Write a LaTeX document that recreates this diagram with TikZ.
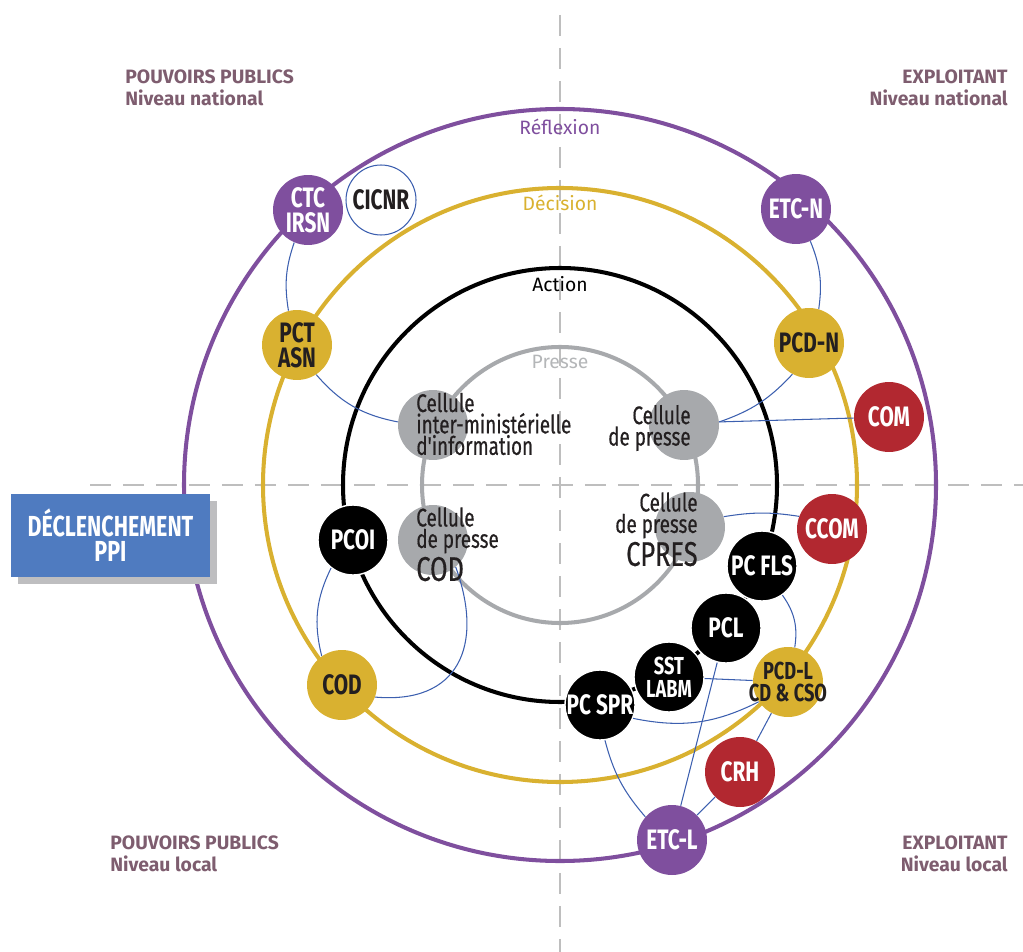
\documentclass[tikz,border=0pt]{standalone}
\usepackage{fontspec}
\setmainfont{Fira Sans}
\newfontfamily\cond[FakeStretch=0.74]{Fira Sans}
\newfontfamily\condm[FakeStretch=0.74, FakeBold=0.5]{Fira Sans}
\usepackage{tikz}
\definecolor{reflexion}{RGB}{127,79,158}
\definecolor{decision}{RGB}{217,177,48}
\definecolor{rouge}{RGB}{178,40,48}
\definecolor{presse}{RGB}{167,169,172}
\definecolor{liaison}{RGB}{60,95,175}
\definecolor{mauve}{RGB}{126,93,111}
\definecolor{texte}{RGB}{35,31,32}
\definecolor{bleuppi}{RGB}{79,123,192}
\definecolor{ombre}{RGB}{190,190,192}
\definecolor{axe}{RGB}{190,190,190}
\usetikzlibrary{shadows}
\tikzset{
  cellule/.style = {circle, inner sep=0pt, minimum size=1.4cm, align=center,
    font=\cond\bfseries\fontsize{16}{14}\selectfont},
  petit/.style = {font=\cond\bfseries\fontsize{14}{13}\selectfont},
  cel_v/.style = {cellule, fill=reflexion, text=white},% reflexion
  cel_j/.style = {cellule, fill=decision, text=texte},% decision
  cel_r/.style = {cellule, fill=rouge, text=white},% communication
  cel_n/.style = {cellule, fill=black, draw=white, line width=0.8pt, text=white},% action
  cel_b/.style = {cellule, fill=white, draw=liaison, line width=0.6pt, text=texte},
  cel_g/.style = {cellule, fill=presse},% presse
  cel_t/.style = {inner sep=0pt, text=texte, font=\condm\fontsize{14.5}{12.2}\selectfont},
  anneau/.style = {line width=2.3pt},
  anneau_t/.style = {inner sep=0pt, font=\fontsize{11}{13}\selectfont},
  lien/.style = {liaison, line width=0.6pt},
  coin/.style = {inner sep=0pt, text=mauve, font=\bfseries\fontsize{11}{12.5}\selectfont},
  declenche/.style = {rectangle, fill=bleuppi, text=white, align=center,
    minimum width=3.98cm, minimum height=1.66cm,
    font=\cond\bfseries\fontsize{16.5}{14.2}\selectfont,
    drop shadow={shadow xshift=0.14cm, shadow yshift=-0.14cm, fill=ombre, opacity=1}},
}

\begin{document}
\begin{tikzpicture}[x=0.02cm, y=-0.02cm]
  \useasboundingbox (0,0) rectangle (1023,952);
  \coordinate (centre) at (560,485);
  \coordinate (axe_h) at (560,15);
  \coordinate (axe_b) at (560,952);
  \coordinate (axe_g) at (90,485);
  \coordinate (axe_d) at (1023,485);
  \draw[axe, line width=0.6pt, dash pattern=on 0.42cm off 0.24cm] (axe_h) -- (axe_b);
  \draw[axe, line width=0.6pt, dash pattern=on 0.42cm off 0.24cm] (axe_g) -- (axe_d);

  % anneaux
  \foreach \r/\c in {376/reflexion, 297/decision, 217/black, 138/presse}
    \draw[anneau, \c] (centre) circle [radius=\r];
  \node[anneau_t, reflexion] (t_reflexion) at (560,127) {Réflexion};
  \node[anneau_t, decision] (t_decision) at (560,203) {Décision};
  \node[anneau_t, black] (t_action) at (560,284) {Action};
  \node[anneau_t, presse!85] (t_presse) at (560,362) {Presse};

  % coins
  \node[coin, anchor=west, align=left] (pp_nat) at (125,88) {POUVOIRS PUBLICS\\Niveau national};
  \node[coin, anchor=east, align=right] (ex_nat) at (1008,88) {EXPLOITANT\\Niveau national};
  \node[coin, anchor=west, align=left] (pp_loc) at (110,854) {POUVOIRS PUBLICS\\Niveau local};
  \node[coin, anchor=east, align=right] (ex_loc) at (1008,854) {EXPLOITANT\\Niveau local};

  \node[declenche] (ppi) at (110.5,535.5) {DÉCLENCHEMENT\\PPI};

  % cellules presse
  \node[cel_g] (cim) at (433,425) {};
  \node[cel_g] (cpr) at (684,425) {};
  \node[cel_g] (ccod) at (433,540) {};
  \node[cel_g] (cps) at (690,527) {};

  % noeuds
  \node[cel_v] (ctc) at (308,210) {CTC\\IRSN};
  \node[cel_b] (cicnr) at (381,200) {CICNR};
  \node[cel_j] (pct) at (297,345) {PCT\\ASN};
  \node[cel_v] (etcn) at (796,209) {ETC-N};
  \node[cel_j] (pcdn) at (809,343) {PCD-N};
  \node[cel_r] (com) at (889,417) {COM};
  \node[cel_n] (pcoi) at (353,540) {PCOI};
  \node[cel_j] (cod) at (342,685) {COD};
  \node[cel_r] (ccom) at (832,529) {CCOM};
  \node[cel_n] (pcspr) at (600,705) {\makebox[0pt]{PC SPR}};
  \node[cel_n, petit] (sst) at (669,677) {SST\\LABM};
  \node[cel_n] (pcfls) at (762,566) {\makebox[0pt]{PC FLS}};
  \node[cel_n] (pcl) at (726,628) {PCL};
  \node[cel_j, petit] (pcdl) at (788,682) {PCD-L\\\makebox[0pt]{CD \& CSO}};
  \node[cel_r] (crh) at (740,772) {CRH};
  \node[cel_v] (etcl) at (672,840) {ETC-L};

  % liaisons
  \path[lien] (ctc.247) edge[bend right=14] (pct.104);
  \path[lien] (pct.-57) edge[bend right=19] (cim.175);
  \path[lien] (etcn.-66) edge[bend left=15] (pcdn.74);
  \path[lien] (pcdn.242) edge[bend left=14] (cpr.5);
  \path[lien] (com) edge (cpr.5);
  \path[lien] (cps.17) edge[bend left=9] (ccom.159);
  \path[lien] (pcoi.232) edge[bend right=20] (cod.125);
  \path[lien] (cod.-20) edge[out=-5, in=-70, looseness=1.4] (ccod.-50);
  \path[lien] (pcfls.-55) edge[bend left=22] (pcdl.79);
  \path[lien] (sst) edge (pcdl);
  \path[lien] (pcspr.-22) edge[bend right=19] (pcdl.214);
  \path[lien] (pcspr.-82) edge[bend right=13] (etcl.139);
  \path[lien] (pcl) edge (etcl);
  \path[lien] (crh) edge (etcl);
  \path[lien] (pcdl) edge (crh);

  % textes presse
  \node[cel_t, anchor=west, align=left] (cim_t) at (416,424) {Cellule\\inter-ministérielle\\d'information};
  \node[cel_t, anchor=east, align=right] (cpr_t) at (691,428) {Cellule\\de presse};
  \node[cel_t, anchor=north west, align=left] (ccod_t) at (416,507) {Cellule\\de presse\\[1pt]{\fontsize{19.5}{15}\selectfont COD}};
  \node[cel_t, anchor=north east, align=right] (cps_t) at (698,492) {Cellule\\de presse\\[1pt]{\fontsize{19.5}{15}\selectfont CPRES}};
\end{tikzpicture}
\end{document}
